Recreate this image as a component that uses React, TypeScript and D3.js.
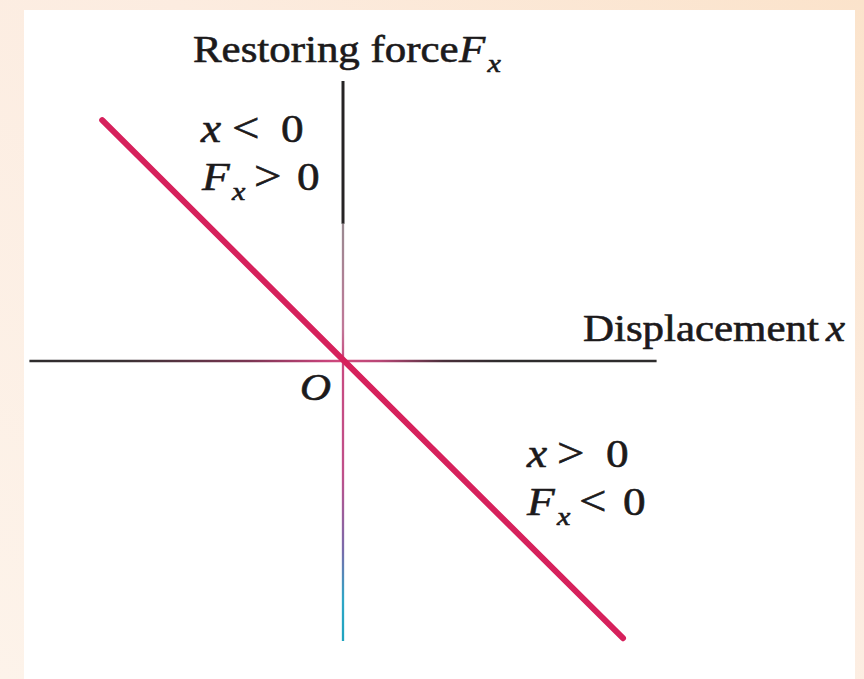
import React from "react";
import * as d3 from "d3";

// Hooke's law: restoring force vs displacement, F_x = -k x
const displacement = [-4.3, 5.0];
const restoringForce = [4.3, -4.95];

// Axis extents in the same units
const xAxisExtent = [-5.6, 5.6];
const yAxisExtent = [-5, 5];
// point where the solid black part of the force axis ends
const forceAxisSolidTop = 2.45;

const WIDTH = 864;
const HEIGHT = 679;
const ORIGIN_X = 343;
const ORIGIN_Y = 361;
const UNIT = 56;

const SERIF = "'Liberation Serif', 'Times New Roman', serif";
const STRETCH = 1.16;
const TEXT_COLOR = "#1c1a1b";

type LabelProps = {
  x: number;
  y: number;
  size?: number;
  italic?: boolean;
  children: React.ReactNode;
};

// One run of text, widened slightly to match the book typeface
function Label({ x, y, size = 37, italic = false, children }: LabelProps) {
  return (
    <text
      transform={`translate(${x},${y}) scale(${STRETCH},1)`}
      fontFamily={SERIF}
      fontSize={size}
      fontStyle={italic ? "italic" : "normal"}
      fill={TEXT_COLOR}
      stroke={TEXT_COLOR}
      strokeWidth={0.6}
    >
      {children}
    </text>
  );
}

// Italic F with a subscript x, kept in a single text run
function Fx({ x, y, size = 39, subSize = 26 }: { x: number; y: number; size?: number; subSize?: number }) {
  return (
    <Label x={x} y={y} size={size} italic>
      F
      <tspan fontSize={subSize} dx={2} dy={10}>
        x
      </tspan>
    </Label>
  );
}

export default function App() {
  const xScale = d3
    .scaleLinear()
    .domain(xAxisExtent)
    .range([ORIGIN_X + xAxisExtent[0] * UNIT, ORIGIN_X + xAxisExtent[1] * UNIT]);
  const yScale = d3
    .scaleLinear()
    .domain(yAxisExtent)
    .range([ORIGIN_Y - yAxisExtent[0] * UNIT, ORIGIN_Y - yAxisExtent[1] * UNIT]);

  const forcePoints: [number, number][] = displacement.map((d, i) => [d, restoringForce[i]]);
  const forceLine = d3
    .line<[number, number]>()
    .x((d) => xScale(d[0]))
    .y((d) => yScale(d[1]));

  const x0 = xScale(0);
  const y0 = yScale(0);

  return (
    <svg
      width={WIDTH}
      height={HEIGHT}
      viewBox={`0 0 ${WIDTH} ${HEIGHT}`}
      style={{ position: "absolute", left: 0, top: 0, display: "block" }}
    >
      <defs>
        <linearGradient id="paper" x1="0" y1="1" x2="1" y2="0">
          <stop offset="0" stopColor="#fdf3ea" />
          <stop offset="0.6" stopColor="#fcece0" />
          <stop offset="1" stopColor="#fbe3cb" />
        </linearGradient>
        <linearGradient
          id="hAxis"
          gradientUnits="userSpaceOnUse"
          x1={xScale(xAxisExtent[0])}
          y1={0}
          x2={xScale(xAxisExtent[1])}
          y2={0}
        >
          <stop offset="0" stopColor="#2e2c2d" />
          <stop offset="0.15" stopColor="#3a3134" />
          <stop offset="0.35" stopColor="#7a3552" />
          <stop offset="0.47" stopColor="#c6437a" />
          <stop offset="0.5" stopColor="#d04b7e" />
          <stop offset="0.56" stopColor="#b84676" />
          <stop offset="0.66" stopColor="#4a2f3a" />
          <stop offset="0.75" stopColor="#2e2c2d" />
          <stop offset="1" stopColor="#2e2c2d" />
        </linearGradient>
        <linearGradient
          id="vAxis"
          gradientUnits="userSpaceOnUse"
          x1={0}
          y1={yScale(forceAxisSolidTop)}
          x2={0}
          y2={yScale(yAxisExtent[0])}
        >
          <stop offset="0" stopColor="#9a8a91" />
          <stop offset="0.25" stopColor="#c07898" />
          <stop offset="0.33" stopColor="#c94a80" />
          <stop offset="0.6" stopColor="#c0508a" />
          <stop offset="0.78" stopColor="#7a6aaa" />
          <stop offset="0.9" stopColor="#2fa6c6" />
          <stop offset="1" stopColor="#1fa4bf" />
        </linearGradient>
      </defs>

      {/* page and white panel */}
      <rect x={0} y={0} width={WIDTH} height={HEIGHT} fill="url(#paper)" />
      <rect x={24} y={10} width={831} height={HEIGHT - 10} fill="#ffffff" />

      {/* displacement axis */}
      <line
        x1={xScale(xAxisExtent[0])}
        x2={xScale(xAxisExtent[1])}
        y1={y0}
        y2={y0}
        stroke="url(#hAxis)"
        strokeWidth={2.5}
      />

      {/* force axis: solid upper part, tinted lower part */}
      <line
        x1={x0}
        x2={x0}
        y1={yScale(yAxisExtent[1])}
        y2={yScale(forceAxisSolidTop)}
        stroke="#262425"
        strokeWidth={3}
      />
      <line
        x1={x0}
        x2={x0}
        y1={yScale(forceAxisSolidTop)}
        y2={yScale(yAxisExtent[0])}
        stroke="url(#vAxis)"
        strokeWidth={2.3}
      />

      {/* F = -kx */}
      <path
        d={forceLine(forcePoints) ?? ""}
        fill="none"
        stroke="#d6215c"
        strokeWidth={6}
        strokeLinecap="round"
      />

      {/* axis titles */}
      <Label x={193} y={62}>Restoring force</Label>
      <Fx x={459} y={62} size={37} />

      <Label x={583} y={341}>Displacement</Label>
      <Label x={826} y={341} italic>x</Label>

      <Label x={300} y={400} italic>O</Label>

      {/* region labels, upper left */}
      <Label x={201} y={142} size={39} italic>x</Label>
      <Label x={232} y={142} size={42}>&lt;</Label>
      <Label x={281} y={142} size={39}>0</Label>

      <Fx x={202} y={190} />
      <Label x={254} y={190} size={42}>&gt;</Label>
      <Label x={297} y={190} size={39}>0</Label>

      {/* region labels, lower right */}
      <Label x={527} y={467} size={39} italic>x</Label>
      <Label x={557} y={467} size={42}>&gt;</Label>
      <Label x={606} y={467} size={39}>0</Label>

      <Fx x={527} y={515} />
      <Label x={579} y={515} size={42}>&lt;</Label>
      <Label x={623} y={515} size={39}>0</Label>
    </svg>
  );
}
